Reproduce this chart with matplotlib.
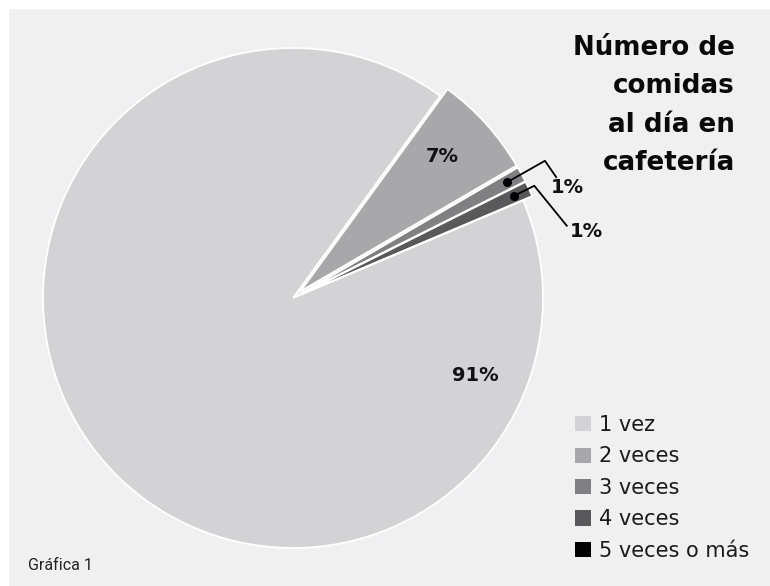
import matplotlib
matplotlib.use("Agg")
import matplotlib.pyplot as plt
from matplotlib.patches import Rectangle, Patch
import numpy as np

categories = ["1 vez", "2 veces", "3 veces", "4 veces", "5 veces o más"]
values = [91.4, 6.6, 1.0, 1.0, 0.0]
colors = ["#d3d3d5", "#a8a8aa", "#808082", "#59595b", "#000000"]
title = "Número de\ncomidas\nal día en\ncafetería"
caption = "Gráfica 1"

W, H = 770, 586
fig = plt.figure(figsize=(W / 100, H / 100), dpi=100)
fig.patch.set_facecolor("white")
fig.add_artist(Rectangle((9 / W, 0), 1, 1 - 9 / H, transform=fig.transFigure,
                         facecolor="#f0f0f0", edgecolor="none", zorder=0))

cx, cy, R = 293, 298, 250
ax = fig.add_axes([(cx - R) / W, (H - cy - R) / H, 2 * R / W, 2 * R / H])
ax.axis("off")

explode = [0, 0.04, 0.04, 0.04, 0.04]
wedges, _ = ax.pie(values, colors=colors, startangle=23, counterclock=False,
                   explode=explode, radius=1,
                   wedgeprops=dict(edgecolor="white", linewidth=1.3))
ax.set_xlim(-1, 1)
ax.set_ylim(-1, 1)
ax.set_aspect("equal")
for w in wedges:
    w.set_clip_on(False)

total = sum(values)
bold = dict(fontsize=14, fontweight="bold", color="#111111", family="DejaVu Sans")

def mid(w):
    return np.deg2rad((w.theta1 + w.theta2) / 2)

# 91% label
ax.text(0.73, -0.31, f"{values[0]/total*100:.0f}%", ha="center", va="center", **bold)
# 7% label
a = mid(wedges[1])
ax.text(0.82 * np.cos(a) - 0.01, 0.82 * np.sin(a) + 0.018, f"{values[1]/total*100:.0f}%",
        ha="center", va="center", **bold)

# leader lines for the small slices
offsets = [
    [(0.15, 0.085), (0.195, 0.02)],
    [(0.08, 0.04), (0.21, -0.12)],
]
label_off = [(0.045, -0.04), (0.08, -0.024)]
for i, idx in enumerate([2, 3]):
    w = wedges[idx]
    a = mid(w)
    rr = 0.935 + explode[idx]
    dx, dy = rr * np.cos(a), rr * np.sin(a)
    pts = [(dx, dy)] + [(dx + ox, dy + oy) for ox, oy in offsets[i]]
    xs, ys = zip(*pts)
    ax.plot(xs, ys, color="black", lw=1.3, clip_on=False)
    ax.plot([dx], [dy], "o", color="black", ms=5.5, clip_on=False)
    ex, ey = pts[-1]
    ax.text(ex + label_off[i][0], ey + label_off[i][1], f"{values[idx]/total*100:.0f}%",
            ha="center", va="center", **bold)

fig.text(735 / W, 1 - 35 / H, title, ha="right", va="top", fontsize=18.8,
         fontweight="bold", family="DejaVu Sans", linespacing=1.62, color="#0a0a0a")

handles = [Patch(facecolor=c, edgecolor="none") for c in colors]
fig.legend(handles, categories, loc="upper left",
           bbox_to_anchor=(575 / W, 1 - 415 / H), frameon=False,
           prop=dict(family="DejaVu Sans", size=15), handlelength=0.75,
           handleheight=0.75, handletextpad=0.4, labelspacing=0.55,
           labelcolor="#1a1a1a", borderaxespad=0, borderpad=0)

fig.text(28 / W, 1 - 565 / H, caption, ha="left", va="center", fontsize=11.5,
         family="Roboto", color="#222222")

fig.savefig("out.png", dpi=100, facecolor=fig.get_facecolor())
